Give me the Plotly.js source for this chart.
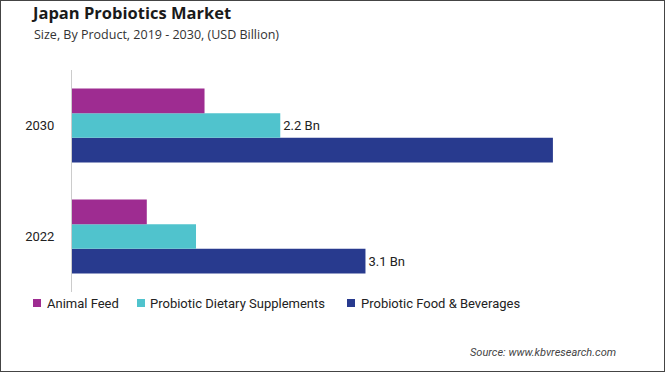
<!DOCTYPE html>
<html>
<head>
<meta charset="utf-8">
<script src="https://cdn.plot.ly/plotly-3.0.1.min.js"></script>
<style>
  html, body { margin: 0; padding: 0; background: #fff; }
  #frame { width: 665px; height: 372px; box-sizing: border-box; border: 1px solid #444; overflow: hidden; }
  #chart { width: 663px; height: 370px; }
</style>
</head>
<body>
<div id="frame"><div id="chart"></div></div>
<script>
const years = ['2022', '2030'];
const seriesNames = ['Animal Feed', 'Probiotic Dietary Supplements', 'Probiotic Food & Beverages'];
const animalFeed = [0.79, 1.40];
const dietarySupplements = [1.31, 2.2];
const foodBeverages = [3.1, 5.08];
const supplementLabels = ['', '2.2 Bn'];
const foodLabels = ['3.1 Bn', ''];
const colors = ['#9E2C91', '#50C3CD', '#283A8E'];

const labelFont = { family: 'Roboto, sans-serif', size: 13, color: '#222' };

const traces = [
  {
    type: 'bar', orientation: 'h', name: seriesNames[2], y: years, x: foodBeverages,
    marker: { color: colors[2] }, text: foodLabels, textposition: 'outside',
    textfont: labelFont, cliponaxis: false, hoverinfo: 'x+name'
  },
  {
    type: 'bar', orientation: 'h', name: seriesNames[1], y: years, x: dietarySupplements,
    marker: { color: colors[1] }, text: supplementLabels, textposition: 'outside',
    textfont: labelFont, cliponaxis: false, hoverinfo: 'x+name'
  },
  {
    type: 'bar', orientation: 'h', name: seriesNames[0], y: years, x: animalFeed,
    marker: { color: colors[0] }, hoverinfo: 'x+name'
  }
];

// plot area in image pixels: x 72..640, y 70..292
const PX0 = 72, PW = 568, PY1 = 292, PH = 222;
const px = v => (v - PX0) / PW;
const py = v => (PY1 - v) / PH;

// custom legend (square + text), left edges in image pixels
const legendSquareX = [33, 137, 347];
const legendTextX = [45, 148, 359];
const legendShapes = legendSquareX.map((sx, i) => ({
  type: 'rect', xref: 'paper', yref: 'paper',
  x0: px(sx), x1: px(sx + 8), y0: py(307), y1: py(299),
  fillcolor: colors[i], line: { width: 0 }
}));
const legendTexts = legendTextX.map((tx, i) => ({
  text: seriesNames[i], xref: 'paper', yref: 'paper', showarrow: false,
  x: px(tx), xanchor: 'left', y: py(303), yanchor: 'middle',
  font: { family: 'Roboto, sans-serif', size: 13, color: '#222' }
}));

const layout = {
  width: 663, height: 370,
  margin: { l: 71, r: 24, t: 69, b: 79 },
  paper_bgcolor: '#fff', plot_bgcolor: '#fff',
  barmode: 'group', bargap: 0.333, bargroupgap: 0,
  font: { family: 'Roboto, sans-serif', color: '#222' },
  title: {
    text: '<b>Japan Probiotics Market</b>',
    font: { family: '"Open Sans", sans-serif', size: 16.5, color: '#1a1a1a' },
    x: 32 / 663, xref: 'container', xanchor: 'left',
    y: 1 - 6 / 370, yref: 'container', yanchor: 'top'
  },
  shapes: legendShapes,
  annotations: [
    {
      text: 'Size, By Product, 2019 - 2030, (USD Billion)',
      xref: 'paper', yref: 'paper', showarrow: false,
      x: px(32), xanchor: 'left',
      y: py(34), yanchor: 'middle',
      font: { family: '"Open Sans", sans-serif', size: 12.5, color: '#333' }
    },
    {
      text: '<i>Source: www.kbvresearch.com</i>',
      xref: 'paper', yref: 'paper', showarrow: false,
      x: px(618), xanchor: 'right',
      y: py(352), yanchor: 'middle',
      font: { family: 'Roboto, sans-serif', size: 11, color: '#444' }
    }
  ].concat(legendTexts),
  xaxis: {
    range: [0, 6], showgrid: false, zeroline: false, showline: false,
    showticklabels: false, ticks: '', fixedrange: true
  },
  yaxis: {
    type: 'category', categoryorder: 'array', categoryarray: years,
    showgrid: false, zeroline: false, showline: true, linecolor: '#cccccc', linewidth: 1,
    ticks: '', ticklabelstandoff: 14,
    tickfont: { family: 'Roboto, sans-serif', size: 13, color: '#222' }, fixedrange: true
  },
  showlegend: false,
  hovermode: 'closest'
};

Plotly.newPlot('chart', traces, layout, { displayModeBar: false, responsive: false });
</script>
</body>
</html>
